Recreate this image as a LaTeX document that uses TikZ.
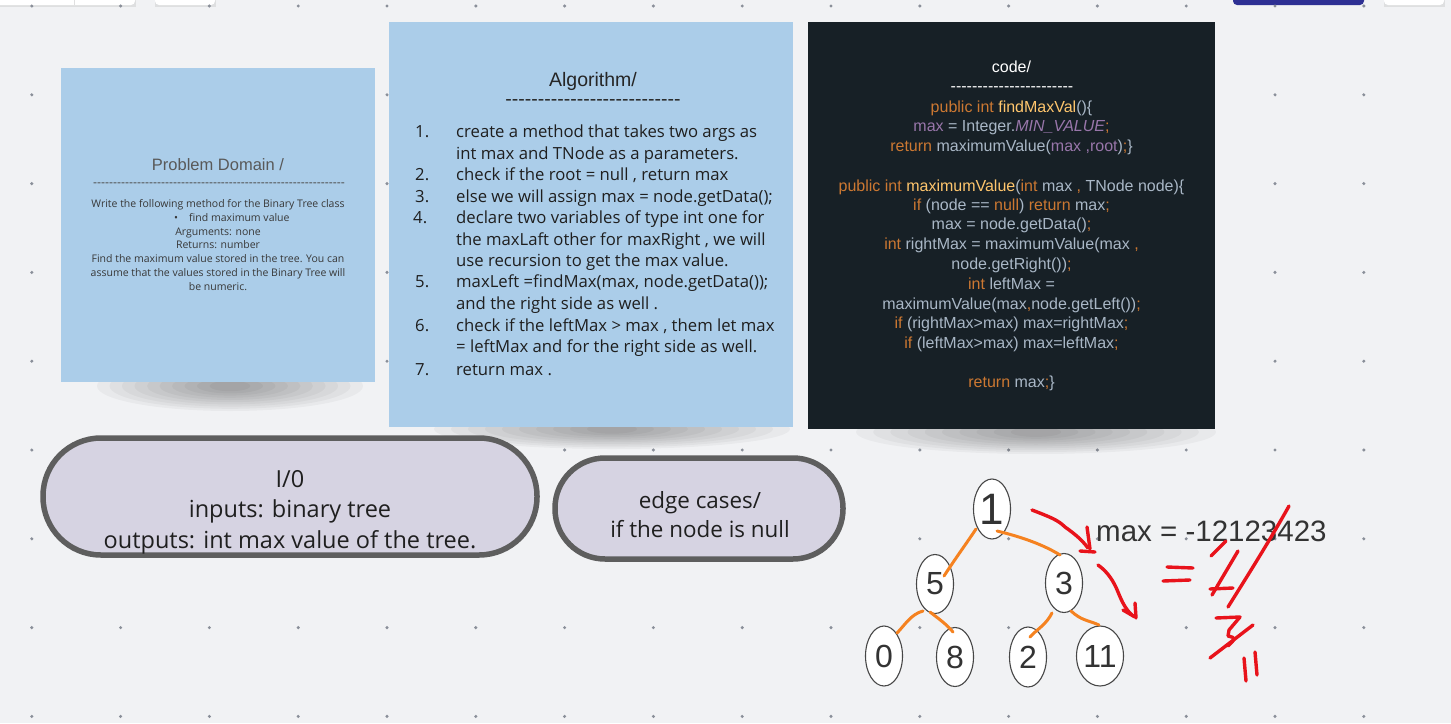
\documentclass[tikz,border=0pt]{standalone}
\usepackage{fontspec}
\setmainfont{Liberation Sans}
\newfontfamily\hand{Open Sans}
\usetikzlibrary{calc,shapes.geometric}
\definecolor{bg}{HTML}{F1F2F4}
\definecolor{dotc}{HTML}{8A8F99}
\definecolor{card}{HTML}{ABCDE9}
\definecolor{dark}{HTML}{172026}
\definecolor{pill}{HTML}{D6D3E2}
\definecolor{pillb}{HTML}{5E5E5E}
\definecolor{uiblue}{HTML}{2E3093}
\definecolor{kw}{HTML}{CC7832}
\definecolor{fn}{HTML}{FFC66D}
\definecolor{pu}{HTML}{9876AA}
\definecolor{tx}{HTML}{A9B7C6}
\definecolor{orng}{HTML}{F58220}
\definecolor{pen}{HTML}{E8131B}
\definecolor{ink}{HTML}{333333}
\newcommand\fs[1]{\fontsize{#1}{#1}\selectfont}
\newcommand\dashrow[1]{\foreach \k in {1,...,#1}{\mbox{-}}}
\tikzset{
  cardbox/.style={fill=card, draw=none},
  codeline/.style={anchor=base, inner sep=0pt, font=\fs{16}, text=tx},
  algline/.style={anchor=base west, inner sep=0pt, font=\hand\fs{16.7}, text=black!88},
  algnum/.style={anchor=base west, inner sep=0pt, font=\hand\fs{16.7}, text=black!88},
  pdline/.style={anchor=base, inner sep=0pt, font=\hand\fs{10.5}, text=black!78},
  pillbox/.style={fill=pill, draw=pillb, line width=5.5pt},
  tnode/.style={ellipse, draw=black!72, line width=1.1pt, fill=white, inner sep=0pt, minimum width=37pt, minimum height=59pt, text=ink, font=\fs{32}},
  tedge/.style={draw=orng, line width=3pt, line cap=round},
  redpen/.style={draw=pen, line width=3.4pt, line cap=round, line join=round},
}
\begin{document}
\begin{tikzpicture}[x=1pt, y=-1pt]
\useasboundingbox (0,0) rectangle (1451,723);
\fill[bg] (0,0) rectangle (1451,723);
% top UI fragments
\foreach \a/\b in {-6/135, 155/215, 1384/1444} {
  \fill[black, opacity=0.08] (\a,-10) rectangle (\b+1,7);
  \fill[white, rounded corners=4pt] (\a,-10) rectangle (\b,5);
}
\draw[black!12] (74,0) -- (74,5);
\fill[uiblue, rounded corners=4pt] (1233,-10) rectangle (1364,5);
% dot grid
\foreach \i in {0,...,15} { \foreach \j in {0,...,8} {
  \fill[dotc] ({31.8+88.8*\i},{6+88.8*\j}) circle (1.7pt);
}}
% shadows
\foreach \s in {1,...,10} {
  \pgfmathsetmacro\ra{125*\s/10+8}\pgfmathsetmacro\rb{22*\s/10+3}
  \fill[black, opacity=0.035] (230,386) ellipse (\ra pt and \rb pt);
  \pgfmathsetmacro\ra{170*\s/10+8}\pgfmathsetmacro\rb{17*\s/10+3}
  \fill[black, opacity=0.035] (612,429) ellipse (\ra pt and \rb pt);
  \pgfmathsetmacro\ra{172*\s/10+8}\pgfmathsetmacro\rb{19*\s/10+3}
  \fill[black, opacity=0.035] (1036,432) ellipse (\ra pt and \rb pt);
}
% Problem domain card
\fill[cardbox] (61,68) rectangle (375,382);
\node[inner sep=0pt, font=\fs{16.5}, text=black!65] (pdtitle) at (218,165) {Problem Domain /};
\node[inner sep=0pt, font=\fs{12}, text=black!70] (pddash) at (219,185) {\dashrow{63}};
\node[pdline] at (218,207) {Write the following method for the Binary Tree class};
\node[pdline] at (176,221) {\textbullet};
\node[pdline, anchor=base west] at (189,221) {find maximum value};
\node[pdline] at (218,235) {Arguments: none};
\node[pdline] at (218,248) {Returns: number};
\node[pdline] at (218,262) {Find the maximum value stored in the tree. You can};
\node[pdline] at (218,276) {assume that the values stored in the Binary Tree will};
\node[pdline] at (218,290) {be numeric.};
% Algorithm card
\fill[cardbox] (389,22) rectangle (793,427);
\node[inner sep=0pt, font=\fs{19.5}, text=black!85] (algtitle) at (593,81) {Algorithm/};
\node[inner sep=0pt, font=\fs{19.5}, text=black!85] (algdash) at (593,103) {\dashrow{27}};
\node[algnum] at (415,137) {1.};
\node[algline] at (456,137) {create a method that takes two args as};
\node[algline] at (456,159) {int max and TNode as a parameters.};
\node[algnum] at (415,180) {2.};
\node[algline] at (456,180) {check if the root = null , return max};
\node[algnum] at (415,202) {3.};
\node[algline] at (456,202) {else we will assign max = node.getData();};
\node[algnum] at (413,223) {4.};
\node[algline] at (456,223) {declare two variables of type int one for};
\node[algline] at (456,245) {the maxLaft other for maxRight , we will};
\node[algline] at (456,266) {use recursion to get the max value.};
\node[algnum] at (415,287) {5.};
\node[algline] at (456,287) {maxLeft =findMax(max, node.getData());};
\node[algline] at (456,309) {and the right side as well .};
\node[algnum] at (415,331) {6.};
\node[algline] at (456,331) {check if the leftMax > max , them let max};
\node[algline] at (456,352) {= leftMax and for the right side as well.};
\node[algnum] at (415,375) {7.};
\node[algline] at (456,375) {return max .};
% Code card
\fill[dark] (808,22) rectangle (1215,429);
\node[codeline, text=white] at (1011.5,72.5) {code/};
\node[codeline, text=white] at (1012,91) {\dashrow{23}};
\node[codeline] at (1011.5,112.5) {\textcolor{kw}{public int }\textcolor{fn}{findMaxVal}()\{};
\node[codeline] at (1011.5,131.5) {\textcolor{pu}{max} = Integer.\textcolor{pu}{\itshape MIN\_VALUE}\textcolor{kw}{;}};
\node[codeline] at (1011.5,151.5) {\textcolor{kw}{return} maximumValue(\textcolor{pu}{max ,root})\textcolor{kw}{;}\}};
\node[codeline] at (1011.5,191.5) {\textcolor{kw}{public int }\textcolor{fn}{maximumValue}(\textcolor{kw}{int} max \textcolor{kw}{,} TNode node)\{};
\node[codeline] at (1011.5,210.5) {\textcolor{kw}{if} (node == \textcolor{kw}{null}) \textcolor{kw}{return} max\textcolor{kw}{;}};
\node[codeline] at (1011.5,229.5) {max = node.getData()\textcolor{kw}{;}};
\node[codeline] at (1011.5,249.5) {\textcolor{kw}{int} rightMax = maximumValue(max \textcolor{kw}{,}};
\node[codeline] at (1011.5,269.5) {node.getRight())\textcolor{kw}{;}};
\node[codeline] at (1011.5,289.5) {\textcolor{kw}{int} leftMax =};
\node[codeline] at (1011.5,309.5) {maximumValue(max\textcolor{kw}{,}node.getLeft())\textcolor{kw}{;}};
\node[codeline] at (1011.5,328.5) {\textcolor{kw}{if} (rightMax>max) max=rightMax\textcolor{kw}{;}};
\node[codeline] at (1011.5,348.5) {\textcolor{kw}{if} (leftMax>max) max=leftMax\textcolor{kw}{;}};
\node[codeline] at (1011.5,387.5) {\textcolor{kw}{return} max\textcolor{kw}{;}\}};
% I/O pill
\draw[pillbox, rounded corners=58pt] (43,438) rectangle (537,555);
\node[inner sep=0pt, font=\hand\fontsize{23.5}{30.5}\selectfont, text=black!88, align=center] (io) at (290,512) {I/0\\inputs: binary tree\\outputs: int max value of the tree.};
% edge cases pill
\draw[pillbox, rounded corners=50pt] (555,458) rectangle (843,559);
\node[inner sep=0pt, font=\hand\fontsize{22.4}{29}\selectfont, text=black!88, align=center] (edge) at (700,515) {edge cases/\\if the node is null};
% tree
\node[tnode, font=\fs{44}, minimum height=60pt] (n1) at (992,509) {1};
\node[tnode] (n5) at (935,584) {5};
\node[tnode] (n3) at (1064,583) {3};
\node[tnode, minimum height=60pt] (n0) at (884,656) {0};
\node[tnode] (n8) at (955,657) {8};
\node[tnode, minimum height=60pt] (n2) at (1028,657) {2};
\node[tnode, minimum height=60pt] (n11) at (1100,656) {11};
\draw[tedge] ($(n1)+(-16,20)$) .. controls ($(n1)+(-26,35)$) and ($(n5)+(20,-25)$) .. ($(n5)+(9,-8)$);
\draw[tedge] ($(n1)+(5,22)$) .. controls ($(n1)+(30,28)$) and ($(n3)+(-20,-38)$) .. ($(n3)+(-4,-28)$);
\draw[tedge] ($(n5)+(-12,27)$) .. controls ($(n5)+(-24,30)$) and ($(n0)+(20,-30)$) .. ($(n0)+(13,-23)$);
\draw[tedge] ($(n5)+(-5,28)$) .. controls ($(n5)+(8,38)$) and ($(n8)+(-8,-32)$) .. ($(n8)+(-2,-25)$);
\draw[tedge] ($(n3)+(-12,30)$) .. controls ($(n3)+(-18,42)$) and ($(n2)+(8,-27)$) .. ($(n2)+(2,-20)$);
\draw[tedge] ($(n3)+(7,28)$) .. controls ($(n3)+(18,38)$) and ($(n11)+(-12,-36)$) .. ($(n11)+(-1,-31)$);
% max text
\node[anchor=base west, inner sep=0pt, font=\fs{29.5}, text=ink] (maxt) at (1096,541) {max = -12123423};
% red annotations
\draw[redpen] (1032,510) .. controls (1050,517) and (1058,520) .. (1065,527) .. controls (1075,534) and (1082,540) .. (1088,548);
\draw[redpen] (1087,527) -- (1090,549);
\draw[redpen] (1080,551) -- (1095,552);
\draw[redpen] (1098,565) .. controls (1108,572) and (1114,582) .. (1118,592) .. controls (1122,602) and (1126,610) .. (1133,616);
\draw[redpen] (1135,603) -- (1136,618);
\draw[redpen] (1123,610) -- (1135,617);
\draw[redpen] (1167,567) -- (1193,568);
\draw[redpen] (1163,581) -- (1190,580);
\draw[redpen] (1211,556) -- (1226,541);
\draw[redpen] (1238,551) -- (1212,595);
\draw[redpen] (1210,589) -- (1233,588);
\draw[redpen] (1289,506) .. controls (1270,540) and (1248,575) .. (1228,607);
\draw[redpen] (1216,618) -- (1240,617) -- (1229,630) -- (1228,636) .. controls (1236,638) .. (1228,646);
\draw[redpen] (1253,625) -- (1210,658);
\draw[redpen] (1244,658) -- (1246,681);
\draw[redpen] (1255,652) -- (1257,675);
\end{tikzpicture}
\end{document}
